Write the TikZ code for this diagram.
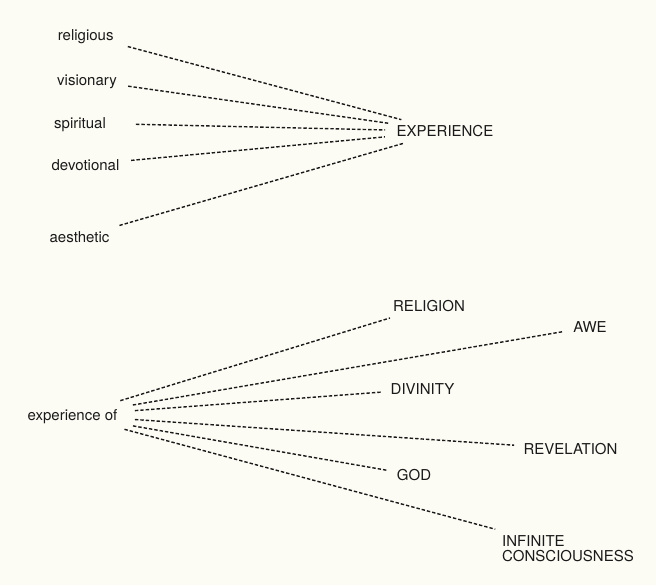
\documentclass[tikz,border=0pt]{standalone}
\usepackage{fontspec}
\setmainfont{TeX Gyre Heros}
\definecolor{cream}{HTML}{FDFCF4}
\definecolor{ink}{HTML}{1A1A1A}
\tikzset{lbl/.style={font=\fontsize{7.5}{7.6}\selectfont,text=ink,inner sep=0pt},
word/.style={lbl,text height=5.4pt,text depth=0pt},
link/.style={draw=ink,line width=0.7pt,dash pattern=on 1.7pt off 1pt}}

\begin{document}
\begin{tikzpicture}[x=0.5pt,y=-0.5pt]
\fill[cream] (0,0) rectangle (656,585);
\foreach \n/\x/\y/\t in {rel/85.7/35.3/religious,vis/87/80.3/visionary,spi/80/123/spiritual,dev/85.5/164.6/devotional,aes/79.5/237/aesthetic}{\node[word] (\n) at (\x,\y){\t};}
\node[word] (exp) at (445,131.3){EXPERIENCE};
\foreach \n/\s/\e in {rel/21.8/22.6,vis/20.8/28.3,spi/28/30,dev/22.9/30.2,aes/20.8/21.2}{\draw[link,shorten <=\s pt,shorten >=\e pt] (\n.center)--(exp.center);}
\node[word] (expof) at (72.5,415.3){experience of};
\foreach \n/\x/\y/\t in {relig/429/306/RELIGION,awe/590/327/AWE,div/422.5/389/DIVINITY,rev/570.5/449/REVELATION,god/414/475/GOD}{\node[word] (\n) at (\x,\y){\t};}
\node[lbl,align=left] (inf) at (568,548.8){INFINITE\\CONSCIOUSNESS};
\foreach \n/\s/\e in {relig/25/20.4,awe/30.6/13.9,div/31.3/20.9,rev/31.3/28.3,god/30.7/13.4,inf/26.9/37.7}{\draw[link,shorten <=\s pt,shorten >=\e pt] (expof.center)--(\n.center);}
\end{tikzpicture}
\end{document}
